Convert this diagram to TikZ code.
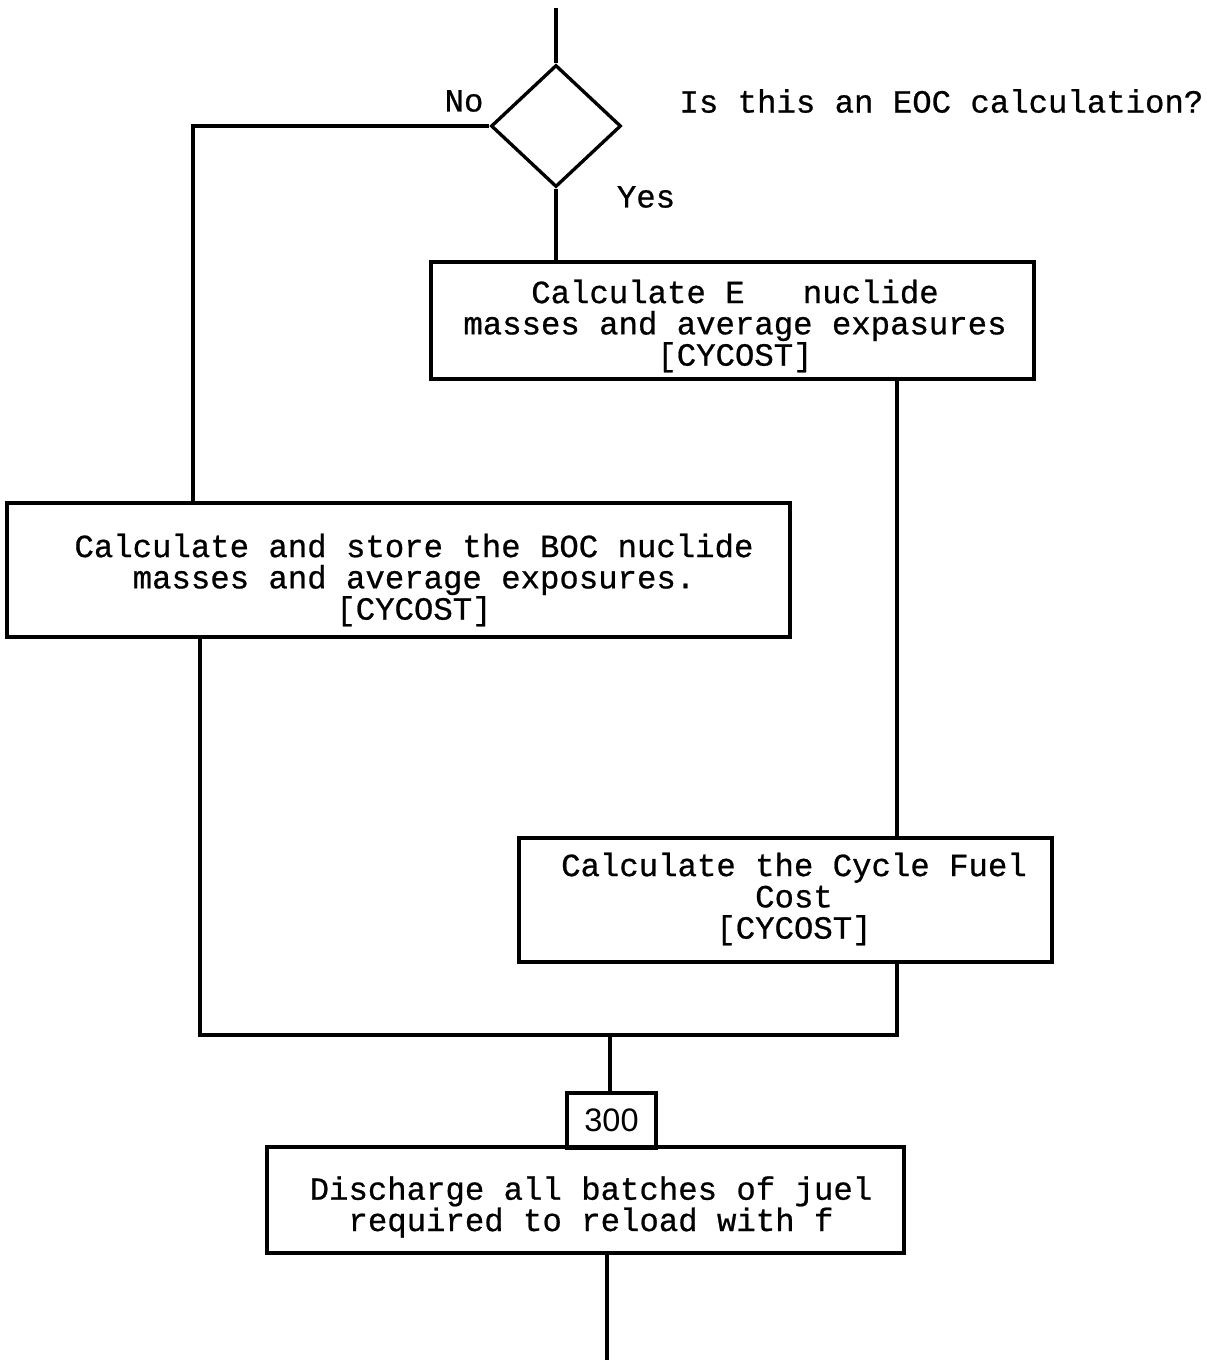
\documentclass[tikz,border=0pt]{standalone}
\usepackage{fontspec}
\setmainfont{Liberation Mono}[FakeBold=0.7]
\newfontfamily\labelfont{Liberation Sans}
\usetikzlibrary{shapes.geometric}
\begin{document}
\begin{tikzpicture}[x=0.02cm, y=-0.02cm,
  line width=1.9pt,
  every node/.style={font=\fontsize{18.4}{17.8}\selectfont},
  procbox/.style={draw, rectangle, inner sep=0pt},
  proctext/.style={inner sep=0pt, align=center},
  decision/.style={draw, diamond, inner sep=0pt, minimum width=2.6cm, minimum height=2.44cm},
  tagbox/.style={draw, rectangle, inner sep=0pt, minimum width=1.78cm, minimum height=1.1cm,
                 font=\labelfont\fontsize{18.5}{18.5}\selectfont},
  flow/.style={draw, line join=miter}]
  \useasboundingbox (0,0) rectangle (1207,1363);

  % decision
  \node[decision] (dec) at (556,126) {};
  \coordinate (start) at (556,8);
  \node (no) at (464,101) {No};
  \node (yes) at (646,197) {Yes};
  \node[anchor=west] (question) at (672,101) {Is this an EOC calculation?};

  % process boxes and their texts
  \node[procbox, minimum width=12.06cm, minimum height=2.34cm] (eoc) at (732.5,320.5) {};
  \node[proctext] (eoctext) at (735,326)
    {Calculate E\ \ \ nuclide\\masses and average expasures\\{[}CYCOST{]}};
  \node[procbox, minimum width=15.66cm, minimum height=2.68cm] (boc) at (398.5,570) {};
  \node[proctext] (boctext) at (414,580)
    {Calculate and store the BOC nuclide\\masses and average exposures.\\{[}CYCOST{]}};
  \node[procbox, minimum width=10.66cm, minimum height=2.48cm] (cost) at (785.5,900) {};
  \node[proctext] (costtext) at (794,899)
    {Calculate the Cycle Fuel\\Cost\\{[}CYCOST{]}};
  \node[tagbox] (tag) at (611.5,1120.5) {300};
  \node[procbox, minimum width=12.74cm, minimum height=2.12cm] (discharge) at (585.5,1200) {};
  \node[proctext] (dischargetext) at (591,1207)
    {Discharge all batches of juel\\required to reload with f};

  % routing points
  \coordinate (nocorner) at (193,127);
  \coordinate (joinleft) at (200,1035);
  \coordinate (joinright) at (897,1035);
  \coordinate (joinmid) at (610,1035);
  \coordinate (finish) at (607,1360);

  % connectors
  \draw[flow] (start) -- (dec.north);
  \draw[flow] (dec.south) -- (dec.south |- eoc.north);
  \draw[flow] (dec.west) -- (nocorner |- dec.west) -- (nocorner |- boc.north);
  \draw[flow] (joinright |- eoc.south) -- (joinright |- cost.north);
  \draw[flow] (joinleft |- boc.south) -- (joinleft) -- (joinright) -- (joinright |- cost.south);
  \draw[flow] (joinmid) -- (joinmid |- tag.north);
  \draw[flow] (finish |- discharge.south) -- (finish);
\end{tikzpicture}
\end{document}
